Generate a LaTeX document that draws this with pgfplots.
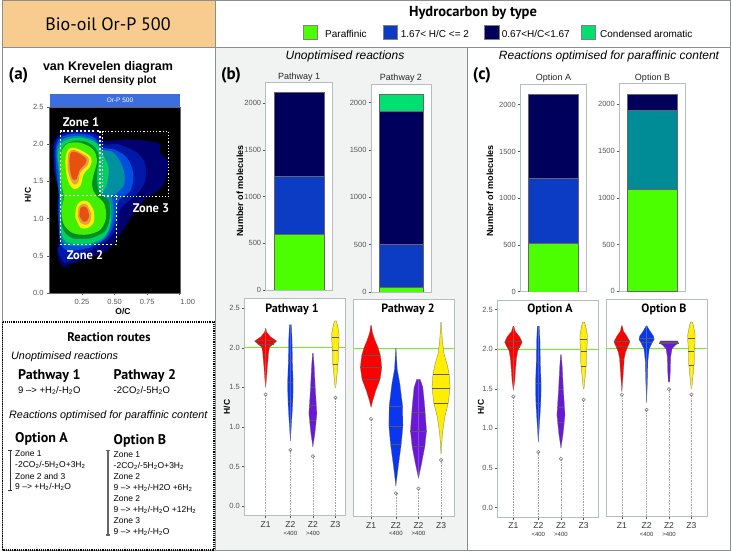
\documentclass[border=0pt]{standalone}
\usepackage{fontspec}
\setmainfont{Liberation Sans}
\newfontfamily\myr{PT Sans}
\usepackage{pgfplots}
\pgfplotsset{compat=1.18}

\newcommand\fs[1]{\fontsize{#1}{#1}\selectfont}
\newcommand\htwo{H\textsubscript{2}}
\newcommand\wat{H\textsubscript{2}O}

\definecolor{headbg}{HTML}{F8CB8E}
\definecolor{panelbg}{HTML}{F1F3F3}
\definecolor{frame}{HTML}{8A8F8F}
\definecolor{boxgray}{HTML}{B4BEBE}
\definecolor{tickgray}{HTML}{555555}
\definecolor{strip}{HTML}{3C6EE0}
\definecolor{cpar}{HTML}{4CFF00}
\definecolor{cmono}{HTML}{0C3CC4}
\definecolor{cnavy}{HTML}{00005C}
\definecolor{ccond}{HTML}{00E070}
\definecolor{cteal}{HTML}{008C96}
\definecolor{vred}{HTML}{FF0000}
\definecolor{vblue}{HTML}{0A36F0}
\definecolor{vpurple}{HTML}{6A18D8}
\definecolor{vyellow}{HTML}{FFEE00}
\definecolor{vgreen}{HTML}{70F020}
\definecolor{ka}{HTML}{00006E}
\definecolor{kb}{HTML}{0018A8}
\definecolor{kc}{HTML}{0050E0}
\definecolor{kd}{HTML}{0090A0}
\definecolor{ke}{HTML}{00D060}
\definecolor{kf}{HTML}{008C28}
\definecolor{kg}{HTML}{40F000}
\definecolor{kh}{HTML}{FFEE00}
\definecolor{ki}{HTML}{E0A048}
\definecolor{kj}{HTML}{E85010}

\pgfplotsset{
  panelax/.style={scale only axis,
    axis line style={color=boxgray,line width=.8pt},
    tick style={color=tickgray,line width=.4pt},
    major tick length=2.5pt,
    tick align=outside,
    axis background/.style={fill=white},
    ticklabel style={font=\fs{7.5},text=tickgray},
    yticklabel style={xshift=1.5pt}},
  barax/.style={panelax,xmin=0,xmax=1,xtick=\empty,ymin=0,
    ybar stacked,
    ytick={0,500,1000,1500,2000},yticklabels={0,500,1000,1500,2000},
    ytick pos=left,
    title style={font=\fs{9},text=black!85,yshift=-8pt}},
  vax/.style={panelax,width=101pt,height=217pt,ymin=-0.12,ymax=2.62,
    xtick={0,1.1,2.1,3.1},
    xticklabels={Z1,{Z2\\[-1pt]{\fs{6}<400}},{Z2\\[-1pt]{\fs{6}>400}},Z3},
    xticklabel style={align=center,font=\fs{8.5},text=black!80,anchor=north},
    xtick pos=bottom,ytick=\empty},
  % tick marks and numbers only, for the panels that show an H/C scale
  vscale/.style={panelax,width=101pt,height=217pt,ymin=-0.12,ymax=2.62,xtick=\empty,
    ytick pos=left,ytick={0,0.5,1,1.5,2,2.5},yticklabels={0.0,0.5,1.0,1.5,2.0,2.5}},
  vfill/.style={fill=#1,draw=black!60,line width=.25pt},
  whisker/.style={black!35,densely dotted,line width=.6pt},
  outlier/.style={only marks,mark=o,mark size=1.7pt,mark options={draw=black!55,fill=white,line width=.5pt}},
  twoline/.style={vgreen,line width=1.1pt},
  contour/.style={fill=#1,draw=none,smooth,tension=.55}
}

% x position, colour, outlier, profile of half width and H/C
\newcommand\violin[4]{%
  \addplot[whisker] coordinates {(#1,#3) (#1,-0.12)};
  \addplot[outlier] coordinates {(#1,#3)};
  \addplot[vfill=#2] table[x expr=#1+\thisrow{w},y=y,row sep=\\] {w y\\#4};
  \addplot[vfill=#2] table[x expr=#1-\thisrow{w},y=y,row sep=\\] {w y\\#4};
}
\newcommand\quart[3]{%
  \addplot[black!65,line width=.35pt] table[x expr=#1+\thisrow{w},y=y,row sep=\\] {w y\\-#2 #3\\#2 #3\\};
}
% the three shapes that come back unchanged in several panels
\newcommand\violinB[1]{\violin{1.1}{vblue}{#1}{0 2.29\\.044 2.29\\.074 2.1\\.089 1.84\\.119 1.59\\.119 1.465\\.104 1.3\\.059 1.09\\0 .825\\}}
\newcommand\violinC[1]{\violin{2.1}{vpurple}{#1}{0 1.93\\.015 1.93\\.059 1.76\\.104 1.5\\.148 1.3\\.178 1.17\\.133 1.04\\.089 .92\\0 .75\\}}
\newcommand\violinD[1]{\violin{3.1}{vyellow}{#1}{0 2.34\\.044 2.34\\.104 2.27\\.163 2.18\\.163 2.1\\.133 1.97\\.119 1.8\\.059 1.63\\.015 1.5\\0 1.5\\}}

\begin{document}
\begin{tikzpicture}[x=1pt,y=-1pt]
\useasboundingbox (0,0) rectangle (732,553);
% page furniture
\fill[white] (0,0) rectangle (732,553);
\fill[headbg] (2,1) rectangle (215,47);
\fill[panelbg] (215,48) rectangle (467,551);
\draw[frame,line width=1pt] (2,1) rectangle (730,551);
\draw[frame,line width=1pt] (2,47.5) -- (730,47.5);
\draw[frame,line width=1pt] (215,1) -- (215,551);
\draw[frame,line width=1pt] (467,47.5) -- (467,551);
\draw[black,densely dotted,line width=1.2pt] (2.5,322) rectangle (214,550);

% van Krevelen kernel density
\fill[strip] (49.5,94) rectangle (180,107);
\begin{axis}[at={(49.5pt,-293pt)},anchor=south west,scale only axis,width=130.5pt,height=186pt,
  xmin=0,xmax=1.0025,ymin=0,ymax=2.5,
  axis background/.style={fill=black},
  axis line style={color=black!60,line width=.5pt},
  tick style={color=tickgray,line width=.4pt},major tick length=2.5pt,tick align=outside,
  xtick={0.25,0.5,0.75,1},xticklabels={0.25,0.50,0.75,\hspace{16pt}1.00},
  ytick={0,0.5,1,1.5,2,2.5},yticklabels={0.0,0.5,1.0,1.5,2.0,2.5},
  xtick pos=bottom,ytick pos=left,
  ticklabel style={font=\fs{7.5},text=tickgray}]
\addplot[contour=ka] coordinates {(.11,.344)(.071,.434)(.059,.568)(.071,.702)(.071,.881)(.059,1.149)(.071,1.328)(.046,1.597)(.028,1.82)(.028,1.999)(.059,2.111)(.11,2.169)(.237,2.2)(.365,2.156)(.441,2.044)(.594,2.066)(.747,2.044)(.849,1.999)(.849,1.887)(.913,1.775)(.901,1.597)(.862,1.418)(.722,1.239)(.645,1.06)(.543,.792)(.441,.568)(.237,.434)(.11,.344)};
\addplot[contour=kb] coordinates {(.161,.434)(.11,.411)(.064,.568)(.084,.702)(.071,.926)(.064,1.194)(.071,1.351)(.038,1.641)(.033,1.91)(.046,2.044)(.11,2.142)(.237,2.169)(.365,2.124)(.429,1.999)(.531,1.999)(.671,1.887)(.735,1.731)(.735,1.507)(.671,1.328)(.543,1.127)(.518,.881)(.441,.702)(.314,.568)(.161,.434)};
\addplot[contour=kc] coordinates {(.314,.613)(.148,.568)(.084,.68)(.071,.97)(.071,1.328)(.054,1.619)(.046,1.91)(.071,2.066)(.135,2.124)(.237,2.142)(.339,2.097)(.411,1.954)(.492,1.932)(.594,1.82)(.645,1.597)(.62,1.373)(.531,1.239)(.505,.97)(.441,.747)(.314,.613)};
\addplot[contour=kd] coordinates {(.288,.635)(.161,.635)(.097,.702)(.079,.97)(.079,1.284)(.071,1.597)(.054,1.887)(.084,2.044)(.161,2.102)(.263,2.102)(.352,2.044)(.395,1.932)(.492,1.887)(.564,1.686)(.574,1.462)(.505,1.328)(.48,1.306)(.492,1.105)(.467,.881)(.403,.702)(.288,.635)};
\addplot[contour=ke] coordinates {(.314,.666)(.161,.666)(.102,.747)(.084,.97)(.089,1.284)(.079,1.597)(.064,1.865)(.097,2.021)(.173,2.08)(.263,2.08)(.365,2.008)(.403,1.887)(.454,1.686)(.441,1.462)(.403,1.306)(.467,1.194)(.467,.926)(.416,.747)(.314,.666)};
\addplot[contour=kf] coordinates {(.314,.733)(.186,.733)(.11,.836)(.089,1.015)(.102,1.239)(.097,1.373)(.089,1.597)(.079,1.82)(.11,1.977)(.186,2.044)(.276,2.035)(.352,1.954)(.378,1.82)(.365,1.597)(.378,1.373)(.454,1.239)(.467,1.06)(.429,.836)(.314,.733)};
\addplot[contour=kg] coordinates {(.095,1.92)(.14,2.01)(.237,2.02)(.335,1.93)(.365,1.775)(.34,1.597)(.327,1.462)(.34,1.36)(.365,1.3)(.42,1.2)(.435,1.015)(.39,.85)(.288,.785)(.18,.805)(.11,.92)(.092,1.105)(.11,1.284)(.097,1.418)(.085,1.641)(.085,1.82)(.095,1.92)};
\addplot[contour=kh] coordinates {(.122,1.775)(.135,1.901)(.173,1.954)(.25,1.91)(.319,1.82)(.314,1.708)(.263,1.597)(.237,1.44)(.186,1.395)(.148,1.485)(.128,1.619)(.122,1.775)};
\addplot[contour=kh] coordinates {(.199,1.015)(.204,1.149)(.237,1.23)(.293,1.23)(.339,1.105)(.339,.948)(.288,.872)(.237,.881)(.199,1.015)};
\addplot[contour=ki] coordinates {(.14,1.775)(.148,1.887)(.186,1.923)(.25,1.874)(.301,1.811)(.293,1.722)(.237,1.619)(.219,1.485)(.186,1.462)(.156,1.552)(.14,1.664)(.14,1.775)};
\addplot[contour=ki] coordinates {(.217,1.038)(.224,1.149)(.25,1.194)(.288,1.185)(.319,1.06)(.309,.948)(.276,.917)(.237,.948)(.217,1.038)};
\addplot[contour=kj] coordinates {(.153,1.775)(.161,1.874)(.191,1.901)(.25,1.852)(.283,1.798)(.276,1.74)(.232,1.65)(.207,1.53)(.179,1.53)(.161,1.619)(.153,1.775)};
\addplot[contour=kj] coordinates {(.23,1.038)(.237,1.14)(.263,1.163)(.288,1.14)(.304,1.038)(.288,.97)(.258,.962)(.23,1.038)};
\addplot[white,dash pattern=on 2pt off 2.2pt,line width=1.7pt] coordinates {(.085,1.31)(.085,2.18)(.39,2.18)(.39,1.31)};
\addplot[white,dash pattern=on 2pt off 2.2pt,line width=1.7pt] coordinates {(.085,1.31)(.515,1.31)(.515,.65)(.085,.65)(.085,1.31)};
\addplot[white,dash pattern=on 1.2pt off 2pt,line width=1pt] coordinates {(.408,1.30)(.408,2.17)(.917,2.17)(.917,1.30)(.408,1.30)};
\end{axis}

% stacked bars
\begin{axis}[barax,at={(265.7pt,-290pt)},anchor=south west,width=67pt,height=207.3pt,ymax=2221,bar width=50pt,title=Pathway 1]
\addplot[fill=cpar,draw=black!60,line width=.3pt] coordinates {(0.5,593)};
\addplot[fill=cmono,draw=black!60,line width=.3pt] coordinates {(0.5,632)};
\addplot[fill=cnavy,draw=black!60,line width=.3pt] coordinates {(0.5,890)};
\end{axis}
\begin{axis}[barax,at={(371pt,-292pt)},anchor=south west,width=60pt,height=208pt,ymax=2197,bar width=44.7pt,title=Pathway 2]
\addplot[fill=cpar,draw=black!60,line width=.3pt] coordinates {(0.5,49)};
\addplot[fill=cmono,draw=black!60,line width=.3pt] coordinates {(0.5,458)};
\addplot[fill=cnavy,draw=black!60,line width=.3pt] coordinates {(0.5,1405)};
\addplot[fill=ccond,draw=black!60,line width=.3pt] coordinates {(0.5,173)};
\end{axis}
\begin{axis}[barax,at={(520.3pt,-291.7pt)},anchor=south west,width=66.4pt,height=207.4pt,ymax=2218,bar width=50pt,title=Option A]
\addplot[fill=cpar,draw=black!60,line width=.3pt] coordinates {(0.5,520)};
\addplot[fill=cmono,draw=black!60,line width=.3pt] coordinates {(0.5,692)};
\addplot[fill=cnavy,draw=black!60,line width=.3pt] coordinates {(0.5,902)};
\end{axis}
\begin{axis}[barax,at={(619.3pt,-291.3pt)},anchor=south west,width=66.4pt,height=207.6pt,ymax=2221,bar width=50pt,title=Option B]
\addplot[fill=cpar,draw=black!60,line width=.3pt] coordinates {(0.5,1098)};
\addplot[fill=cteal,draw=black!60,line width=.3pt] coordinates {(0.5,845)};
\addplot[fill=cnavy,draw=black!60,line width=.3pt] coordinates {(0.5,171)};
\end{axis}

% violins
\begin{axis}[vscale,at={(244.3pt,-515.7pt)},anchor=south west,xmin=-0.948,xmax=3.54]
\end{axis}
\begin{axis}[vax,at={(244.3pt,-515.7pt)},anchor=south west,xmin=-0.948,xmax=3.54]
\addplot[twoline] coordinates {(-0.948,2) (3.54,2)};
\violin{0}{vred}{1.41}{0 2.25\\.044 2.20\\.207 2.14\\.415 2.10\\.489 2.085\\.356 2.05\\.178 2.01\\.133 1.95\\.119 1.89\\.074 1.76\\.044 1.63\\0 1.5\\}
\violinB{0.71}
\violinC{0.63}
\violinD{1.37}
\quart{0}{.41}{2.10}\quart{0}{.36}{2.05}\quart{0}{.12}{1.91}
\quart{1.1}{.09}{1.84}\quart{1.1}{.12}{1.57}\quart{1.1}{.11}{1.33}
\quart{2.1}{.10}{1.5}\quart{2.1}{.155}{1.27}\quart{2.1}{.14}{1.08}
\quart{3.1}{.163}{2.13}\quart{3.1}{.133}{1.97}\quart{3.1}{.115}{1.79}
\end{axis}
\begin{axis}[vax,at={(353pt,-516.3pt)},anchor=south west,xmin=-0.8,xmax=3.674]
\addplot[twoline] coordinates {(-0.8,2) (3.674,2)};
\violin{0}{vred}{1.11}{0 2.29\\.015 2.29\\.059 2.2\\.178 2.1\\.311 2.01\\.415 1.91\\.474 1.76\\.4 1.61\\.207 1.465\\.074 1.34\\0 1.255\\}
\violin{1.1}{vblue}{0.17}{0 2.0\\.007 2.0\\.059 1.74\\.178 1.55\\.296 1.275\\.311 1.02\\.237 .79\\.119 .54\\0 .265\\}
\violin{2.1}{vpurple}{0.23}{0 1.61\\.074 1.61\\.193 1.51\\.267 1.3\\.296 1.19\\.356 .96\\.281 .76\\.133 .54\\0 .36\\}
\violin{3.1}{vyellow}{0.59}{0 2.33\\.007 2.33\\.059 2.1\\.133 1.93\\.267 1.8\\.356 1.68\\.4 1.51\\.326 1.32\\.163 1.13\\.059 .92\\0 .665\\}
\quart{0}{.415}{1.91}\quart{0}{.474}{1.76}\quart{0}{.40}{1.61}
\quart{1.1}{.296}{1.27}\quart{1.1}{.311}{1.02}\quart{1.1}{.237}{.79}
\quart{2.1}{.29}{1.2}\quart{2.1}{.356}{.955}\quart{2.1}{.281}{.76}
\quart{3.1}{.356}{1.68}\quart{3.1}{.4}{1.5}\quart{3.1}{.32}{1.31}
\end{axis}
\begin{axis}[vscale,at={(497.3pt,-517pt)},anchor=south west,xmin=-0.711,xmax=3.748]
\end{axis}
\begin{axis}[vax,at={(497.3pt,-517pt)},anchor=south west,xmin=-0.711,xmax=3.748]
\addplot[twoline] coordinates {(-0.711,2) (3.748,2)};
\violin{0}{vred}{1.40}{0 2.29\\.015 2.29\\.089 2.22\\.267 2.16\\.385 2.09\\.326 2.05\\.193 1.98\\.133 1.88\\.089 1.73\\.059 1.6\\0 1.48\\}
\violinB{0.70}
\violinC{0.615}
\violinD{1.36}
\quart{0}{.385}{2.1}\quart{0}{.30}{2.03}\quart{0}{.13}{1.87}
\quart{1.1}{.09}{1.84}\quart{1.1}{.12}{1.57}\quart{1.1}{.10}{1.32}
\quart{2.1}{.105}{1.49}\quart{2.1}{.155}{1.265}\quart{2.1}{.145}{1.08}
\quart{3.1}{.163}{2.13}\quart{3.1}{.133}{1.97}\quart{3.1}{.115}{1.79}
\end{axis}
\begin{axis}[vax,at={(606.3pt,-516.7pt)},anchor=south west,xmin=-0.696,xmax=3.807]
\addplot[twoline] coordinates {(-0.696,2) (3.807,2)};
\violin{0}{vred}{1.42}{0 2.29\\.015 2.29\\.074 2.22\\.222 2.16\\.356 2.09\\.267 2.03\\.163 1.96\\.104 1.88\\.059 1.69\\0 1.46\\}
\violin{1.1}{vblue}{1.23}{0 2.29\\.015 2.29\\.163 2.22\\.311 2.16\\.341 2.12\\.237 2.07\\.119 2.0\\.059 1.85\\.044 1.65\\0 1.32\\}
\violin{2.1}{vpurple}{1.49}{0 2.10\\.385 2.10\\.43 2.07\\.296 2.05\\.133 2.0\\.074 1.9\\.059 1.73\\.03 1.58\\0 1.58\\}
\violinD{1.42}
\quart{0}{.34}{2.1}\quart{0}{.267}{2.03}\quart{0}{.10}{1.87}
\quart{1.1}{.33}{2.14}\quart{1.1}{.26}{2.08}\quart{1.1}{.06}{1.86}
\quart{2.1}{.39}{2.09}\quart{2.1}{.43}{2.07}\quart{2.1}{.066}{1.84}
\quart{3.1}{.163}{2.13}\quart{3.1}{.133}{1.97}\quart{3.1}{.115}{1.79}
\end{axis}

% header and labels
\node[font=\myr\fs{18}] at (108,24.5) {Bio-oil Or-P 500};
\node[font=\myr\bfseries\fs{14.5}] at (473,13) {Hydrocarbon by type};
\foreach \xx/\cc in {303/cpar,382.7/cmono,484.3/cnavy,580.7/ccond}
  \draw[fill=\cc,draw=black!50,line width=.3pt] (\xx,25) rectangle ++(14.6,14.6);
\begin{scope}[every node/.style={anchor=west,inner sep=0pt,font=\fs{10}}]
\node at (325,33.5) {Paraffinic};
\node at (400.7,33.5) {1.67< H/C <= 2};
\node at (501.7,33.5) {0.67<H/C<1.67};
\node at (600,33.5) {Condensed aromatic};
\end{scope}
\node[font=\itshape\fs{12}] at (345,56) {Unoptimised reactions};
\node[font=\itshape\fs{12}] at (609,56) {Reactions optimised for paraffinic content};
\node[font=\myr\bfseries\fs{17}] at (18.5,75) {(a)};
\node[font=\myr\bfseries\fs{17}] at (231,75) {(b)};
\node[font=\myr\bfseries\fs{17}] at (482,75) {(c)};
\node[font=\bfseries\fs{12.5}] at (108,67.5) {van Krevelen diagram};
\node[font=\bfseries\fs{10.3}] at (110,80.5) {Kernel density plot};
\node[font=\fs{6.5},text=white] at (120,100.5) {Or-P 500};
\node[font=\myr\bfseries\fs{12.5},text=white] at (81,122) {Zone 1};
\node[font=\myr\bfseries\fs{12.5},text=white] at (151,208) {Zone 3};
\node[font=\myr\bfseries\fs{12.5},text=white] at (85,255) {Zone 2};
\node[font=\bfseries\fs{8.5},rotate=90] at (28,195) {H/C};
\node[font=\bfseries\fs{8.5}] at (123,312) {O/C};
\node[font=\bfseries\fs{9},rotate=90] at (240,191) {Number of molecules};
\node[font=\bfseries\fs{9},rotate=90] at (490,191) {Number of molecules};
\node[font=\bfseries\fs{8.5},rotate=90] at (227,407) {H/C};
\node[font=\bfseries\fs{8.5},rotate=90] at (481,407) {H/C};
\node[font=\myr\bfseries\fs{12}] at (292,309.5) {Pathway 1};
\node[font=\myr\bfseries\fs{12}] at (408,309.5) {Pathway 2};
\node[font=\myr\bfseries\fs{12}] at (550,309.5) {Option A};
\node[font=\myr\bfseries\fs{12}] at (664,309.5) {Option B};

% reaction routes
\node[font=\myr\bfseries\fs{12.5}] at (109,337) {Reaction routes};
\begin{scope}[every node/.style={anchor=west,inner sep=0pt}]
\node[font=\itshape\fs{10.8}] at (11,357) {Unoptimised reactions};
\node[font=\myr\bfseries\fs{14}] at (18,376) {Pathway 1};
\node[font=\myr\bfseries\fs{14}] at (113.5,376) {Pathway 2};
\node[font=\fs{9.5}] at (18,390.5) {9 --> +\htwo/-\wat};
\node[font=\fs{9.5}] at (113.5,390.5) {-2CO\textsubscript{2}/-5\wat};
\node[font=\itshape\fs{10.8}] at (9,416) {Reactions optimised for paraffinic content};
\node[font=\myr\bfseries\fs{14}] at (15,439) {Option A};
\node[font=\myr\bfseries\fs{14}] at (113.5,441) {Option B};
\foreach \yy/\lab in {454/{Zone 1},465/{-2CO\textsubscript{2}/-5\wat+3\htwo},476/{Zone 2 and 3},487/{9 --> +\htwo/-\wat}}
  \node[font=\fs{8.5}] at (15,\yy) {\lab};
\foreach \yy/\lab in {455/{Zone 1},466/{-2CO\textsubscript{2}/-5\wat+3\htwo},477/{Zone 2},488/{9 --> +\htwo/-H2O +6\htwo},499/{Zone 2},510/{9 --> +\htwo/-\wat{} +12\htwo},521/{Zone 3},532/{9 --> +\htwo/-\wat}}
  \node[font=\fs{8.5}] at (113.5,\yy) {\lab};
\end{scope}
\draw[black!80,line width=.7pt] (8,450) -- (12,450) (10,450) -- (10,490) (8,490) -- (12,490);
\draw[black!60,line width=1.1pt] (106,450.5) -- (110,450.5) (108,450.5) -- (108,535) (106,535) -- (110,535);
\end{tikzpicture}
\end{document}
